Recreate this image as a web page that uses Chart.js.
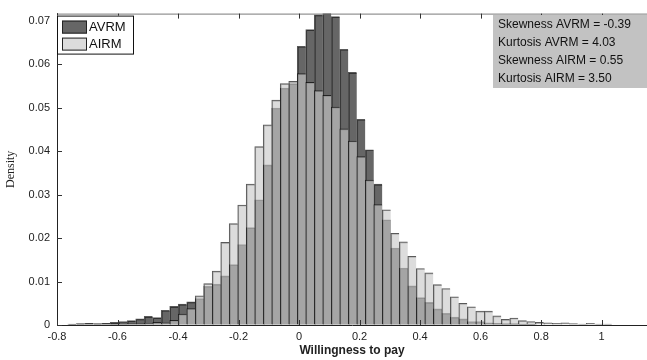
<!DOCTYPE html>
<html>
<head>
<meta charset="utf-8">
<script src="https://cdn.jsdelivr.net/npm/chart.js@4.4.1/dist/chart.umd.min.js"></script>
<style>
  html, body { margin: 0; padding: 0; background: #fff; }
</style>
</head>
<body>
<canvas id="wtp" width="647" height="360"></canvas>
<script>
// bin centres of the two histograms (same edges for both)
var binCenters = [
  -0.7507, -0.7226, -0.6945, -0.6664, -0.6383, -0.6102, -0.5821, -0.5540, -0.5259, -0.4978,
  -0.4697, -0.4416, -0.4135, -0.3854, -0.3573, -0.3292, -0.3011, -0.2730, -0.2449, -0.2168,
  -0.1887, -0.1606, -0.1325, -0.1044, -0.0763, -0.0482, -0.0201, 0.0080, 0.0361, 0.0642,
  0.0923, 0.1204, 0.1485, 0.1766, 0.2047, 0.2328, 0.2609, 0.2890, 0.3171, 0.3452,
  0.3733, 0.4014, 0.4295, 0.4576, 0.4857, 0.5138, 0.5419, 0.5700, 0.5981, 0.6262,
  0.6543, 0.6824, 0.7105, 0.7386, 0.7667, 0.7948, 0.8229, 0.8510, 0.8791, 0.9072,
  0.9353, 0.9634, 0.9915, 1.0196, 1.0477, 1.0758, 1.1039, 1.1320
];

var avrm = [
  0.0002, 0.0003, 0.0004, 0.0003, 0.0004, 0.0006, 0.0008, 0.0010, 0.0014, 0.0020,
  0.0017, 0.0034, 0.0043, 0.0048, 0.0053, 0.0061, 0.0089, 0.0094, 0.0113, 0.0139,
  0.0185, 0.0224, 0.0288, 0.0368, 0.0499, 0.0545, 0.0555, 0.0641, 0.0679, 0.0713,
  0.0717, 0.0709, 0.0634, 0.0581, 0.0473, 0.0403, 0.0324, 0.0242, 0.0177, 0.0131,
  0.0090, 0.0063, 0.0052, 0.0037, 0.0027, 0.0018, 0.0014, 0.0008, 0.0008, 0.0005,
  0.0004, 0.0003, 0.0003, 0.0002, 0.0002, 0.0001, 0.0001, 0.0001, 0.0001, 0,
  0, 0, 0, 0, 0, 0, 0, 0
];

var airm = [
  0, 0, 0.0001, 0.0001, 0.0001, 0.0002, 0.0002, 0.0003, 0.0003, 0.0004,
  0.0006, 0.0005, 0.0011, 0.0025, 0.0038, 0.0067, 0.0095, 0.0124, 0.0190, 0.0233,
  0.0276, 0.0324, 0.0410, 0.0460, 0.0517, 0.0555, 0.0560, 0.0578, 0.0558, 0.0539,
  0.0528, 0.0501, 0.0451, 0.0423, 0.0387, 0.0333, 0.0277, 0.0265, 0.0211, 0.0191,
  0.0158, 0.0130, 0.0120, 0.0093, 0.0084, 0.0065, 0.0050, 0.0042, 0.0032, 0.0032,
  0.0021, 0.0013, 0.0016, 0.0010, 0.0008, 0.0006, 0.0005, 0.0004, 0.0005, 0.0003,
  0.0002, 0.0004, 0.0002, 0.0002, 0.0001, 0.0001, 0.0001, 0.0001
];

var xTickValues = [-0.8, -0.6, -0.4, -0.2, 0, 0.2, 0.4, 0.6, 0.8, 1];
var yTickValues = [0, 0.01, 0.02, 0.03, 0.04, 0.05, 0.06, 0.07];

var statsLines = [
  'Skewness AVRM = -0.39',
  'Kurtosis AVRM = 4.03',
  'Skewness AIRM = 0.55',
  'Kurtosis AIRM = 3.50'
];

function toPoints(values) {
  return values.map(function (v, i) { return { x: binCenters[i], y: v }; });
}

Chart.defaults.font.family = 'Liberation Sans, Arial, sans-serif';
Chart.defaults.color = '#222';

// box top edge, inward ticks, legend and the moments box
var framePlugin = {
  id: 'frame',
  afterDraw: function (chart) {
    var ctx = chart.ctx, a = chart.chartArea;
    var xs = chart.scales.x, ys = chart.scales.y;
    ctx.save();
    ctx.lineWidth = 1;
    ctx.strokeStyle = '#7a7a7a';
    ctx.beginPath();
    ctx.moveTo(a.left, a.top + 0.5);
    ctx.lineTo(a.right, a.top + 0.5);
    ctx.stroke();

    ctx.strokeStyle = '#333';
    ctx.beginPath();
    xs.ticks.forEach(function (t) {
      var px = Math.round(xs.getPixelForValue(t.value)) + 0.5;
      ctx.moveTo(px, a.top);
      ctx.lineTo(px, a.top + 5);
      ctx.moveTo(px, a.bottom);
      ctx.lineTo(px, a.bottom - 5);
    });
    ys.ticks.forEach(function (t) {
      var py = Math.round(ys.getPixelForValue(t.value)) + 0.5;
      ctx.moveTo(a.left, py);
      ctx.lineTo(a.left + 5, py);
    });
    ctx.stroke();

    // legend, entries in dataset order reversed (AVRM first)
    var lx = a.left, ly = a.top + 2;
    ctx.fillStyle = '#fff';
    ctx.fillRect(lx, ly, 76, 38);
    ctx.strokeStyle = '#111';
    ctx.strokeRect(lx + 0.5, ly + 0.5, 76, 38);
    ctx.font = '13px Liberation Sans, Arial, sans-serif';
    ctx.textBaseline = 'middle';
    var sets = chart.data.datasets.slice().reverse();
    sets.forEach(function (ds, i) {
      var sy = ly + 5 + i * 17;
      ctx.fillStyle = '#fff';
      ctx.fillRect(lx + 5, sy, 25, 13);
      ctx.fillStyle = ds.backgroundColor;
      ctx.fillRect(lx + 5, sy, 25, 13);
      ctx.strokeStyle = '#222';
      ctx.strokeRect(lx + 5.5, sy + 0.5, 24, 12);
      ctx.fillStyle = '#111';
      ctx.fillText(ds.label, lx + 32, sy + 7);
    });

    // moments box
    var bx = 493, by = 15;
    ctx.font = '12px Liberation Sans, Arial, sans-serif';
    ctx.fillStyle = '#c2c2c2';
    ctx.fillRect(bx, by, a.right - bx, 73);
    ctx.fillStyle = '#111';
    statsLines.forEach(function (s, i) {
      ctx.fillText(s, bx + 5, by + 10 + i * 17.8);
    });
    ctx.restore();
  }
};

var ctx = document.getElementById('wtp').getContext('2d');
var chart = new Chart(ctx, {
  type: 'bar',
  data: {
    datasets: [{
      label: 'AIRM',
      data: toPoints(airm),
      backgroundColor: 'rgba(200, 200, 200, 0.64)',
      borderColor: 'rgba(0, 0, 0, 0.65)',
      borderWidth: { top: 1, left: 1, right: 0, bottom: 0 },
      grouped: false
    }, {
      label: 'AVRM',
      data: toPoints(avrm),
      backgroundColor: 'rgba(0, 0, 0, 0.6)',
      borderColor: 'rgba(0, 0, 0, 0.65)',
      borderWidth: { top: 1, left: 1, right: 0, bottom: 0 },
      grouped: false
    }]
  },
  options: {
    responsive: false,
    animation: false,
    categoryPercentage: 1,
    barPercentage: 1,
    layout: { padding: { top: 12, right: 0, left: 0, bottom: 0 } },
    plugins: {
      tooltip: { enabled: false },
      legend: { display: false }
    },
    scales: {
      x: {
        type: 'linear',
        min: -0.8,
        max: 1.15,
        offset: false,
        grid: { display: true, drawOnChartArea: false, drawTicks: false, offset: false },
        border: { display: true, color: '#222' },
        afterBuildTicks: function (s) {
          s.ticks = xTickValues.map(function (v) { return { value: v }; });
        },
        afterFit: function (s) { s.height = 35; },
        ticks: {
          padding: 5,
          maxRotation: 0,
          font: { size: 11 },
          callback: function (v) { return String(+v.toFixed(2)); }
        },
        title: {
          display: true,
          text: 'Willingness to pay',
          font: { size: 12, weight: 'bold' },
          padding: { top: 0, bottom: 2 }
        }
      },
      y: {
        min: 0,
        max: 0.0716,
        grid: { display: true, drawOnChartArea: false, drawTicks: false },
        border: { display: true, color: '#222' },
        afterBuildTicks: function (s) {
          s.ticks = yTickValues.map(function (v) { return { value: v }; });
        },
        afterFit: function (s) { s.width = 57; },
        ticks: {
          padding: 7,
          font: { size: 11 },
          callback: function (v) { return String(+v.toFixed(3)); }
        },
        title: {
          display: true,
          text: 'Density',
          font: { family: 'Liberation Serif, Times New Roman, serif', size: 12 },
          padding: { top: 4, bottom: 4 }
        }
      }
    }
  },
  plugins: [framePlugin]
});
</script>
</body>
</html>
